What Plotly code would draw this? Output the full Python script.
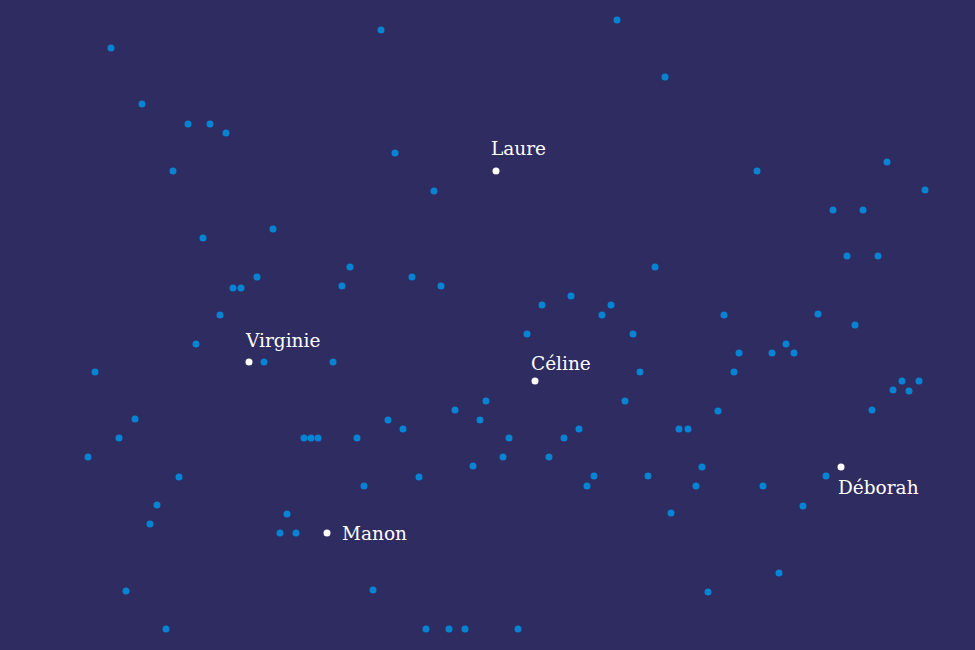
import plotly.graph_objects as go

# Background points (x, y in chart units; y grows downward)
bg_x = [111, 142, 188, 210, 226, 173, 203, 273, 233, 241, 257, 220, 196, 95, 135, 119, 88, 179, 157, 150, 126, 166,
        381, 395, 434, 350, 342, 412, 441, 617, 665, 757, 887, 925, 833, 863, 847, 878, 655, 571, 542, 611, 602, 724,
        818, 855, 527, 633, 739, 772, 786, 794, 640, 734, 902, 919, 893, 909, 872, 718, 625, 486, 455, 388, 480, 403,
        304, 311, 318, 357, 509, 564, 579, 679, 688, 503, 549, 473, 419, 364, 594, 648, 587, 696, 702, 763, 826, 803,
        671, 287, 280, 296, 373, 426, 449, 465, 518, 708, 779, 264, 333]
bg_y = [48, 104, 124, 124, 133, 171, 238, 229, 288, 288, 277, 315, 344, 372, 419, 438, 457, 477, 505, 524, 591, 629,
        30, 153, 191, 267, 286, 277, 286, 20, 77, 171, 162, 190, 210, 210, 256, 256, 267, 296, 305, 305, 315, 315,
        314, 325, 334, 334, 353, 353, 344, 353, 372, 372, 381, 381, 390, 391, 410, 411, 401, 401, 410, 420, 420, 429,
        438, 438, 438, 438, 438, 438, 429, 429, 429, 457, 457, 466, 477, 486, 476, 476, 486, 486, 467, 486, 476, 506,
        513, 514, 533, 533, 590, 629, 629, 629, 629, 592, 573, 362, 362]

# Highlighted people
names = ["Laure", "Virginie", "Céline", "Manon", "Déborah"]
hx = [496, 249, 535, 327, 841]
hy = [171, 362, 381, 533, 467]

# label offsets (pixels): xshift, yshift
label_offsets = [(-7, 23), (-6, 22), (-6, 18), (13, 0), (-5, -20)]

BG = "#2f2c62"
BLUE = "#0683d3"

fig = go.Figure()
fig.add_trace(go.Scatter(x=bg_x, y=bg_y, mode="markers",
                         marker=dict(size=7, color=BLUE, line=dict(width=0)),
                         hoverinfo="skip", showlegend=False))
fig.add_trace(go.Scatter(x=hx, y=hy, mode="markers", text=names,
                         marker=dict(size=7, color="white", line=dict(width=0)),
                         hoverinfo="text", showlegend=False))

for n, x, y, (dx, dy) in zip(names, hx, hy, label_offsets):
    fig.add_annotation(x=x, y=y, text=n, showarrow=False, xanchor="left", yanchor="middle",
                       xshift=dx, yshift=dy,
                       font=dict(family="DejaVu Serif", size=18.5, color="white"))

fig.update_layout(
    width=975, height=650,
    margin=dict(l=0, r=0, t=0, b=0),
    paper_bgcolor=BG, plot_bgcolor=BG,
    xaxis=dict(range=[0, 975], visible=False, fixedrange=True),
    yaxis=dict(range=[650, 0], visible=False, fixedrange=True),
)

fig.write_html("out.html")
